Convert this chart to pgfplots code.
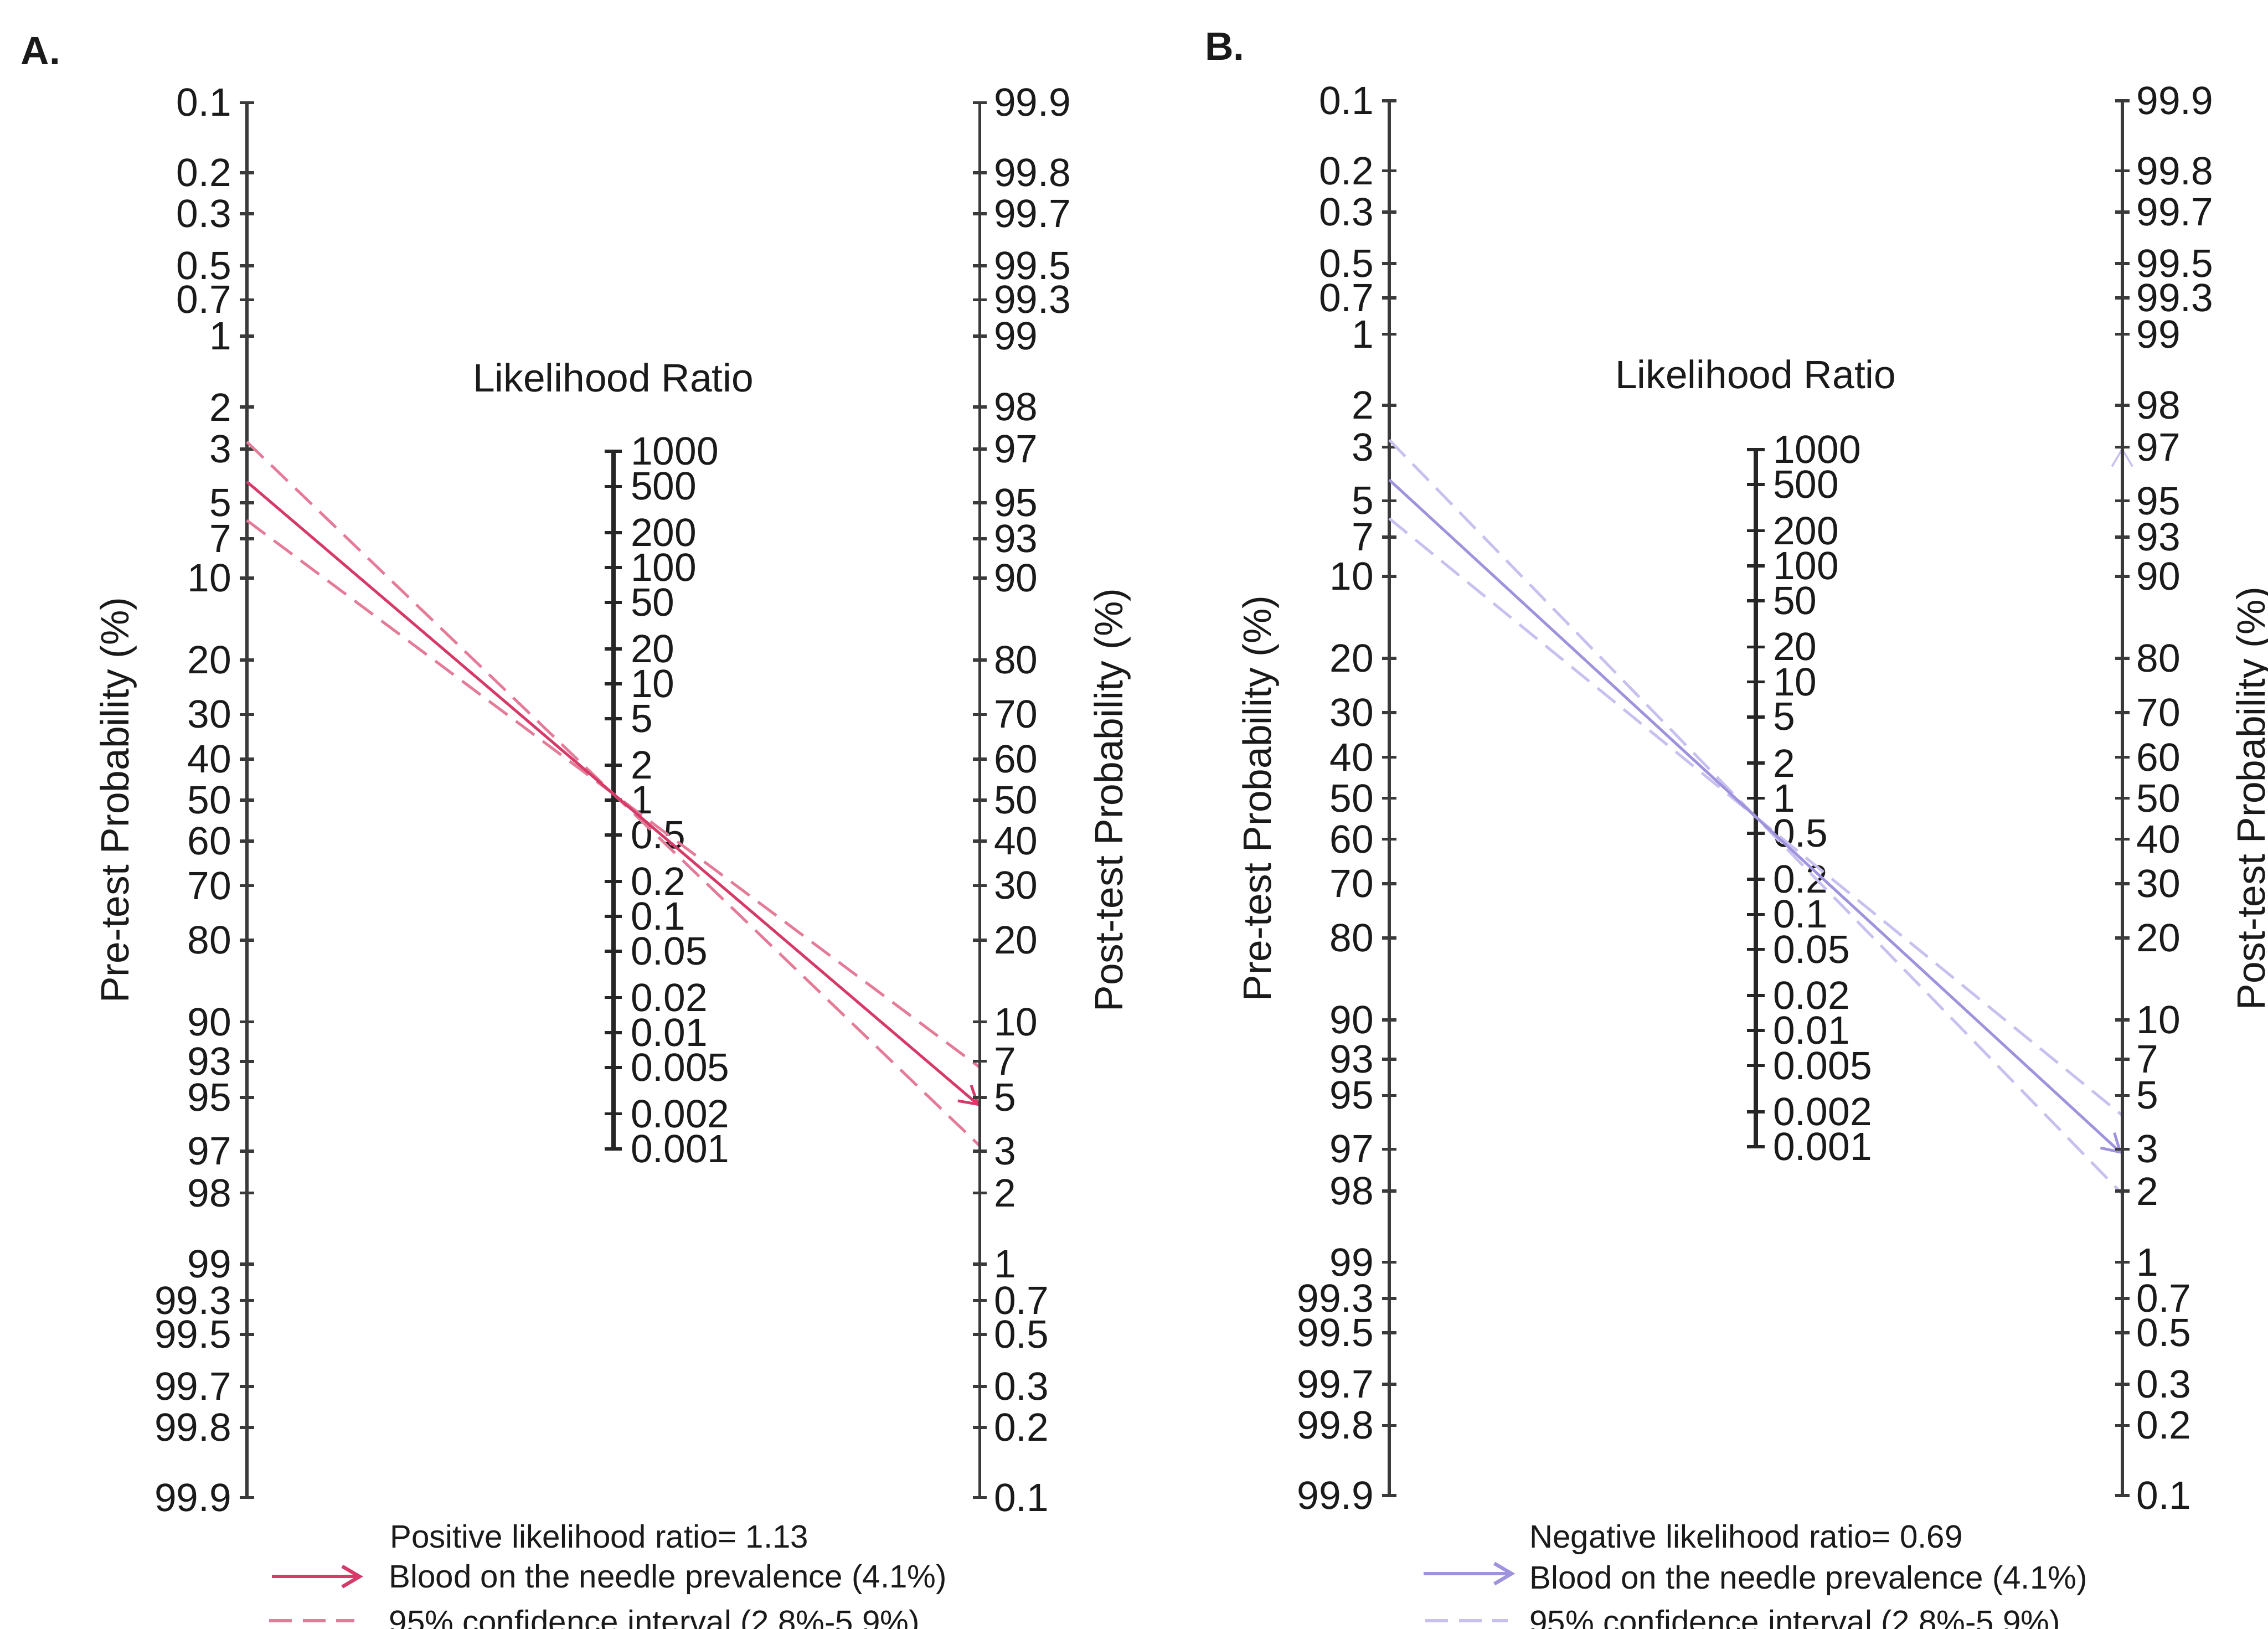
\documentclass[border=0pt]{standalone}
\usepackage{fontspec}
\setmainfont{Liberation Sans}
\usepackage{pgfplots}
\pgfplotsset{compat=1.18}
\usetikzlibrary{arrows.meta}

\definecolor{axcol}{HTML}{3A3A3A}
\definecolor{redS}{HTML}{D63A68}
\definecolor{redD}{HTML}{E47B98}
\definecolor{purS}{HTML}{A093DD}
\definecolor{purD}{HTML}{C8C0EE}
\definecolor{txt}{HTML}{1A1A1A}

\newcommand\tfont{\fontsize{10}{12}\selectfont}
\newcommand\lfont{\fontsize{8.17}{9.8}\selectfont}

\pgfplotsset{
 fagbase/.style={scale only axis, clip=false, xmin=0, xmax=1, axis x line=none,
   tick align=center, enlargelimits=false,
   y axis line style={line width=0.8pt, color=axcol},
   ytick style={line width=0.8pt, color=axcol},
   major tick length=3.6pt, minor tick num=0,
   yticklabel style={font=\tfont, inner sep=0pt, text=txt}},
 sideaxis/.style={fagbase, width=185.6pt, height=353.22pt, ymin=-6.9069, ymax=6.9069,
   ytick={-6.9068,-6.2126,-5.8061,-5.2933,-4.9548,-4.5951,-3.8918,-3.4761,-2.9444,-2.5867,-2.1972,-1.3863,-0.8473,-0.4055,0,0.4055,0.8473,1.3863,2.1972,2.5867,2.9444,3.4761,3.8918,4.5951,4.9548,5.2933,5.8061,6.2126,6.9068}},
 leftaxis/.style={sideaxis, axis y line*=left,
   yticklabels={99.9,99.8,99.7,99.5,99.3,99,98,97,95,93,90,80,70,60,50,40,30,20,10,7,5,3,2,1,0.7,0.5,0.3,0.2,0.1},
   yticklabel style={anchor=east, xshift=-1.9pt}},
 rightaxis/.style={sideaxis, axis y line*=right,
   yticklabels={0.1,0.2,0.3,0.5,0.7,1,2,3,5,7,10,20,30,40,50,60,70,80,90,93,95,97,98,99,99.3,99.5,99.7,99.8,99.9},
   yticklabel style={anchor=west, xshift=1.6pt}},
 lraxis/.style={fagbase, width=92.8pt, height=176.61pt, ymin=-3.454, ymax=3.454,
   axis y line*=right,
   y axis line style={line width=1.1pt, color=black!85},
   ytick style={line width=0.8pt, color=black!85}, major tick length=4.4pt,
   ytick={-3.4539,-3.1073,-2.6492,-2.3026,-1.9560,-1.4979,-1.1513,-0.8047,-0.3466,0,0.3466,0.8047,1.1513,1.4979,1.9560,2.3026,2.6492,3.1073,3.4539},
   yticklabels={0.001,0.002,0.005,0.01,0.02,0.05,0.1,0.2,0.5,1,2,5,10,20,50,100,200,500,1000},
   yticklabel style={anchor=west, xshift=2.0pt}},
 dashA/.style={redD, line width=0.7pt, mark=none, dash pattern=on 5.8pt off 2.7pt},
 solA/.style={redS, line width=0.7pt, mark=none, -{Straight Barb[length=4.4pt,width=5.2pt]}},
 dashB/.style={purD, line width=0.7pt, mark=none, dash pattern=on 5.8pt off 2.7pt},
 solB/.style={purS, line width=0.7pt, mark=none, -{Straight Barb[length=4.4pt,width=5.2pt]}},
}

\begin{document}
\begin{tikzpicture}
\path[use as bounding box] (0,0) rectangle (574.36pt,412.45pt);

% ---------------- Panel A ----------------
\begin{axis}[lraxis, at={(62.53pt,121.53pt)}, anchor=south west]
\end{axis}
\begin{axis}[leftaxis, at={(62.53pt,33.22pt)}, anchor=south west]
\addplot[dashA] coordinates {(0,3.5472) (1,-3.4250)};
\addplot[dashA] coordinates {(0,2.7695) (1,-2.6473)};
\addplot[solA] coordinates {(0,3.1523) (1,-3.0301)};
% legend samples
\addplot[solA, line width=0.9pt] coordinates {(0.0341,-7.690) (0.1585,-7.690)};
\addplot[dashA, line width=0.9pt] coordinates {(0.0302,-8.127) (0.1466,-8.127)};
\end{axis}
\begin{axis}[rightaxis, at={(62.53pt,33.22pt)}, anchor=south west]
\end{axis}

% ---------------- Panel B ----------------
\begin{axis}[lraxis, at={(351.83pt,122.01pt)}, anchor=south west]
\end{axis}
\begin{axis}[leftaxis, at={(351.83pt,33.70pt)}, anchor=south west]
\addplot[dashB] coordinates {(0,3.5472) (1,-3.9183)};
\addplot[dashB] coordinates {(0,2.7695) (1,-3.1406)};
\addplot[solB] coordinates {(0,3.1523) (1,-3.5234)};
\addplot[solB, purD, line width=0.5pt] coordinates {(1,2.5867) (1,3.4761)};
% legend samples
\addplot[solB, line width=0.9pt] coordinates {(0.0464,-7.680) (0.1717,-7.680)};
\addplot[dashB, line width=0.9pt] coordinates {(0.0491,-8.146) (0.1613,-8.146)};
\end{axis}
\begin{axis}[rightaxis, at={(351.83pt,33.70pt)}, anchor=south west]
\end{axis}

% ---------------- texts ----------------
\begin{scope}[every node/.style={inner sep=0pt, outer sep=0pt, text=txt}]
\node[anchor=base west, font=\tfont\bfseries] at (5.31pt,396.12pt) {A.};
\node[anchor=base west, font=\tfont\bfseries] at (305.13pt,397.25pt) {B.};
\node[anchor=base, font=\tfont] at (155.33pt,313.30pt) {Likelihood Ratio};
\node[anchor=base, font=\tfont] at (444.63pt,314.10pt) {Likelihood Ratio};
\node[anchor=base, rotate=90, font=\tfont] at (32.60pt,209.82pt) {Pre-test Probability (\%)};
\node[anchor=base, rotate=90, font=\tfont] at (284.25pt,209.82pt) {Post-test Probability (\%)};
\node[anchor=base, rotate=90, font=\tfont] at (321.90pt,210.26pt) {Pre-test Probability (\%)};
\node[anchor=base, rotate=90, font=\tfont] at (573.55pt,210.26pt) {Post-test Probability (\%)};
\node[anchor=base west, font=\lfont] at (98.75pt,20.51pt) {Positive likelihood ratio= 1.13};
\node[anchor=base west, font=\lfont] at (98.53pt,10.40pt) {Blood on the needle prevalence (4.1\%)};
\node[anchor=base west, font=\lfont] at (98.53pt,-1.1pt) {95\% confidence interval (2.8\%-5.9\%)};
\node[anchor=base west, font=\lfont] at (387.36pt,20.51pt) {Negative likelihood ratio= 0.69};
\node[anchor=base west, font=\lfont] at (387.36pt,10.07pt) {Blood on the needle prevalence (4.1\%)};
\node[anchor=base west, font=\lfont] at (387.36pt,-1.1pt) {95\% confidence interval (2.8\%-5.9\%)};
\end{scope}
\end{tikzpicture}
\end{document}
